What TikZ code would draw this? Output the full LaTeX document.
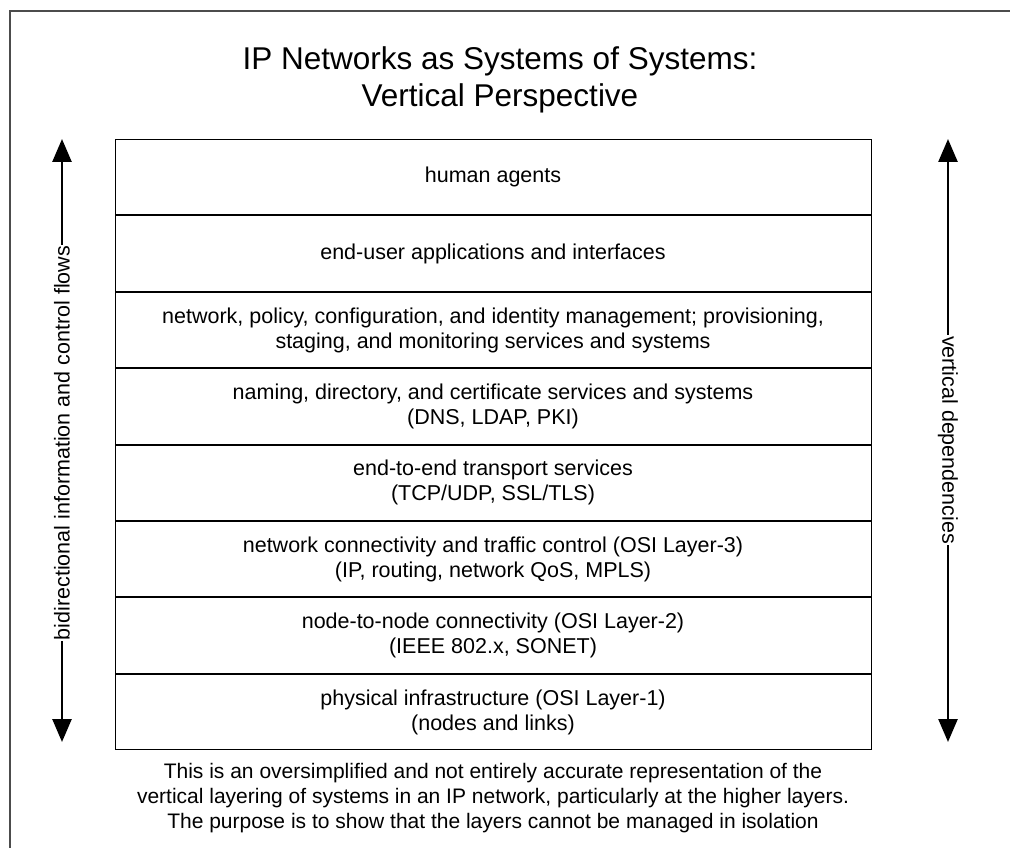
\documentclass[tikz,border=0pt]{standalone}
\usepackage{fontspec}
\setmainfont{Liberation Sans}
\usetikzlibrary{arrows.meta}
\begin{document}
\begin{tikzpicture}[x=1pt,y=-1pt,
  layer/.style={draw=black,line width=1pt,minimum width=756pt,minimum height=75.4pt,
    inner sep=0pt,align=center,font=\fontsize{21.5}{25}\selectfont,anchor=north},
  flow/.style={line width=2.6pt,{Triangle[width=19pt,length=23pt]}-{Triangle[width=19pt,length=23pt]}},
  sidelabel/.style={fill=white,inner sep=1pt,font=\fontsize{21.5}{25}\selectfont}]
  \useasboundingbox (0,0) rectangle (1010,848);
  % page frame, open to the right and bottom
  \begin{scope}
    \clip (0,0) rectangle (1010,848);
    \draw[line width=1.2pt,black!70] (10,860) -- (10,11) -- (1020,11);
  \end{scope}
  % title
  \node[align=center,font=\fontsize{31.5}{37}\selectfont] (title) at (500,80)
    {IP Networks as Systems of Systems:\\Vertical Perspective};
  % layer stack
  \node[layer] (l1) at (493,139) {human agents};
  \node[layer] (l2) at (l1.south) {end-user applications and interfaces};
  \node[layer] (l3) at (l2.south) {network, policy, configuration, and identity management; provisioning,\\staging, and monitoring services and systems};
  \node[layer] (l4) at (l3.south) {naming, directory, and certificate services and systems\\(DNS, LDAP, PKI)};
  \node[layer] (l5) at (l4.south) {end-to-end transport services\\(TCP/UDP, SSL/TLS)};
  \node[layer] (l6) at (l5.south) {network connectivity and traffic control (OSI Layer-3)\\(IP, routing, network QoS, MPLS)};
  \node[layer] (l7) at (l6.south) {node-to-node connectivity (OSI Layer-2)\\(IEEE 802.x, SONET)};
  \node[layer] (l8) at (l7.south) {physical infrastructure (OSI Layer-1)\\(nodes and links)};
  % side arrows
  \coordinate (lt) at (62,139);
  \coordinate (lb) at (62,742);
  \coordinate (rt) at (948,139);
  \coordinate (rb) at (948,742);
  \draw[flow] (lt) -- (lb);
  \draw[flow] (rt) -- (rb);
  \node[sidelabel,rotate=90] (lflow) at (62,443) {bidirectional information and control flows};
  \node[sidelabel,rotate=-90] (rdep) at (948,440) {vertical dependencies};
  % note under the stack
  \node[align=center,font=\fontsize{21}{25}\selectfont] (note) at (493,798)
    {This is an oversimplified and not entirely accurate representation of the\\
     vertical layering of systems in an IP network, particularly at the higher layers.\\
     The purpose is to show that the layers cannot be managed in isolation};
\end{tikzpicture}
\end{document}
